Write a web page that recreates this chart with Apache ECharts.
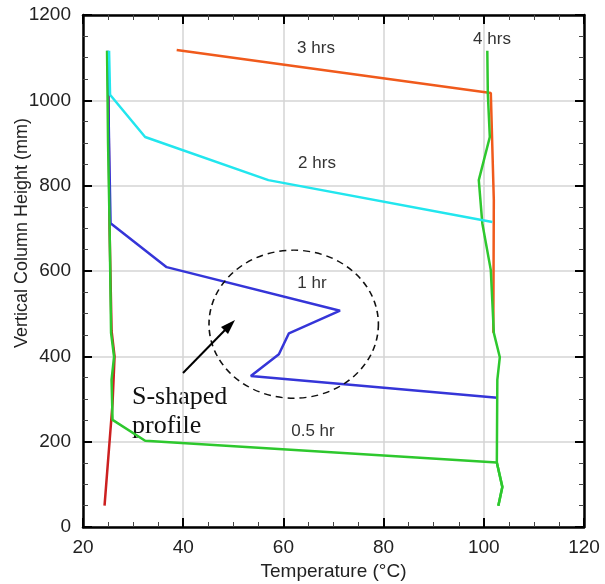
<!DOCTYPE html>
<html>
<head>
<meta charset="utf-8">
<script src="https://cdn.jsdelivr.net/npm/echarts@6/dist/echarts.min.js"></script>
<style>html,body{margin:0;padding:0;background:#fff;}#c{width:605px;height:584px;}</style>
</head>
<body>
<div id="c"></div>
<script>
// Data: temperature (°C) vs vertical column height (mm)
var xTicks = [20, 40, 60, 80, 100, 120];
var yTicks = [0, 200, 400, 600, 800, 1000, 1200];

var t0T = [24.3, 25.9, 26.3, 25.7, 25.3, 25.0];
var t0H = [50, 290, 400, 460, 700, 1115];

var h05T = [24.8, 25.0, 25.3, 25.6, 26.2, 25.7, 25.9, 32.4, 102.6, 103.7, 102.9];
var h05H = [1116, 900, 712, 455, 399, 345, 251, 202, 151, 94, 50];

var h1T = [24.9, 25.2, 25.5, 36.7, 71.3, 61.1, 59.1, 53.5, 102.7];
var h1H = [1116, 900, 712, 609, 507, 454, 405, 354, 303];

var h2T = [25.2, 25.4, 32.4, 57.0, 101.7];
var h2H = [1116, 1013, 914, 813, 715];

var h3T = [38.7, 101.4, 102.0, 101.9];
var h3H = [1118, 1017, 766, 455];

var h4T = [100.7, 100.8, 101.2, 99.0, 99.7, 101.4, 102.0, 103.2, 102.7, 102.6, 103.7, 102.9];
var h4H = [1116, 1017, 914, 813, 712, 602, 455, 398, 345, 151, 94, 50];

function pairs(a, b) { return a.map(function (v, i) { return [v, b[i]]; }); }

var chart = echarts.init(document.getElementById('c'), null, {renderer: 'canvas'});
var FONT = 'Liberation Sans, Arial, sans-serif';
var SERIF = 'Liberation Serif, Times New Roman, serif';

function axisCommon(extra) {
  var o = {
    type: 'value',
    axisLine: {show: true, onZero: false, lineStyle: {color: '#000', width: 2.5}},
    axisTick: {show: true, inside: true, length: 9, lineStyle: {color: '#000', width: 2}},
    minorTick: {show: true, splitNumber: 4, length: 5, lineStyle: {color: '#444', width: 1}},
    splitLine: {show: false},
    axisLabel: {show: false}
  };
  for (var k in extra) o[k] = extra[k];
  return o;
}

function mkLine(data, color, z) {
  return {
    type: 'line', data: data, showSymbol: false, symbol: 'none',
    lineStyle: {color: color, width: 2.5}, z: z, animation: false
  };
}

function plain(v) { return String(v); }

chart.setOption({
  animation: false,
  backgroundColor: '#fff',
  grid: {left: 83, right: 21, top: 15, bottom: 57, containLabel: false, outerBoundsMode: 'none'},
  xAxis: [
    axisCommon({min: xTicks[0], max: xTicks[xTicks.length - 1], interval: 20, position: 'bottom',
      splitLine: {show: true, lineStyle: {color: '#d4d4d4', width: 1.5}},
      axisLabel: {show: true, fontSize: 19, color: '#222', margin: 11, fontFamily: FONT, formatter: plain},
      name: 'Temperature (°C)', nameLocation: 'middle', nameGap: 33,
      nameTextStyle: {fontSize: 19, color: '#222', fontFamily: FONT}}),
    axisCommon({min: xTicks[0], max: xTicks[xTicks.length - 1], interval: 20, position: 'top'})
  ],
  yAxis: [
    axisCommon({min: yTicks[0], max: yTicks[yTicks.length - 1], interval: 200, position: 'left',
      splitLine: {show: true, lineStyle: {color: '#d4d4d4', width: 1.5}},
      axisLabel: {show: true, fontSize: 19, color: '#222', margin: 12, fontFamily: FONT, formatter: plain}}),
    axisCommon({min: yTicks[0], max: yTicks[yTicks.length - 1], interval: 200, position: 'right'})
  ],
  series: [
    mkLine(pairs(t0T, t0H), '#cc2020', 2),
    mkLine(pairs(h1T, h1H), '#3535d8', 3),
    mkLine(pairs(h3T, h3H), '#f05a1c', 4),
    mkLine(pairs(h4T, h4H), '#2ec82e', 5),
    mkLine(pairs(h05T, h05H), '#2ec82e', 6),
    mkLine(pairs(h2T, h2H), '#22e6ee', 7)
  ],
  graphic: [
    {type: 'text', rotation: Math.PI / 2, position: [13, 348],
      style: {text: 'Vertical Column Height (mm)', fontSize: 18, fill: '#222', fontFamily: FONT}},
    {type: 'text', position: [316, 48], style: {text: '3 hrs', fontSize: 17, fill: '#333', fontFamily: FONT, textAlign: 'center', textVerticalAlign: 'middle'}},
    {type: 'text', position: [492, 39], style: {text: '4 hrs', fontSize: 17, fill: '#333', fontFamily: FONT, textAlign: 'center', textVerticalAlign: 'middle'}},
    {type: 'text', position: [317, 163], style: {text: '2 hrs', fontSize: 17, fill: '#333', fontFamily: FONT, textAlign: 'center', textVerticalAlign: 'middle'}},
    {type: 'text', position: [312, 283], style: {text: '1 hr', fontSize: 17, fill: '#333', fontFamily: FONT, textAlign: 'center', textVerticalAlign: 'middle'}},
    {type: 'text', position: [313, 431], style: {text: '0.5 hr', fontSize: 17, fill: '#333', fontFamily: FONT, textAlign: 'center', textVerticalAlign: 'middle'}},
    {type: 'circle', shape: {cx: 0, cy: 0, r: 84.7}, position: [293.7, 324.2], scaleY: 0.874,
      style: {fill: 'none', stroke: '#111', lineWidth: 1.6, lineDash: [7, 5], strokeNoScale: true}, z: 10},
    {type: 'line', shape: {x1: 183, y1: 373, x2: 226, y2: 329}, style: {stroke: '#000', lineWidth: 2}, z: 10},
    {type: 'polygon', shape: {points: [[235, 320], [221, 327], [228, 334]]}, style: {fill: '#000'}, z: 10},
    {type: 'text', position: [132, 397], style: {text: 'S-shaped', fontSize: 26, fill: '#111', fontFamily: SERIF, textVerticalAlign: 'middle'}},
    {type: 'text', position: [132, 426], style: {text: 'profile', fontSize: 26, fill: '#111', fontFamily: SERIF, textVerticalAlign: 'middle'}}
  ]
});
</script>
</body>
</html>
